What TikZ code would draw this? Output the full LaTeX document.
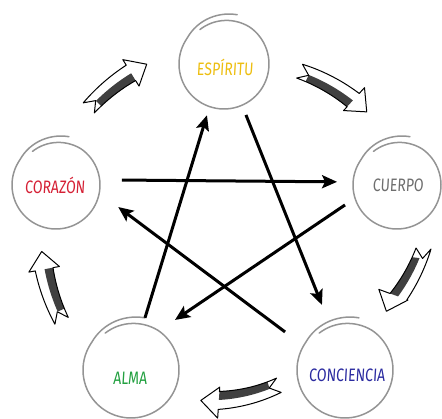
\documentclass[tikz,border=0pt]{standalone}
\usepackage{fontspec}
\newfontfamily\handfont[FakeStretch=0.78,FakeSlant=0.06]{Fira Sans}
\usetikzlibrary{arrows.meta,calc}
\definecolor{colEsp}{HTML}{EDBE10}
\definecolor{colCue}{HTML}{6E6E6E}
\definecolor{colCon}{HTML}{2B2BA0}
\definecolor{colAlm}{HTML}{22A040}
\definecolor{colCor}{HTML}{D52035}
\newcommand\handring[3]{%
  \draw[ringline] plot[domain=0:410,samples=90,smooth,variable=\t]
   ({#1+(#3-3*max(0,1-\t/70)+6*max(0,(\t-340)/70))*cos(125-\t)},
    {#2+(#3-3*max(0,1-\t/70)+6*max(0,(\t-340)/70))*sin(125-\t)});}
\newcommand\fatarrow[4]{%
  \def\Aa{#1}\def\Ab{#2}\def\Ra{#3}\def\Rb{#4}%
  \pgfmathsetmacro\Hb{#2+18/#4*57.3}%
  \pgfmathsetmacro\Nt{#1-10/#3*57.3}%
  \pgfmathsetmacro\Hout{#4+15.5}%
  \pgfmathsetmacro\Hin{#4-15.5}%
  \def\fatpath{plot[domain=\Aa:\Hb,samples=25,variable=\t]
     ({230+(rr(\t)+ww(\t))*cos(\t)},{184+(rr(\t)+ww(\t))*sin(\t)})
     -- ({230+\Hout*cos(\Hb)},{184+\Hout*sin(\Hb)})
     -- ({230+\Rb*cos(\Ab)},{184+\Rb*sin(\Ab)})
     -- ({230+\Hin*cos(\Hb)},{184+\Hin*sin(\Hb)})
     -- plot[domain=\Hb:\Aa,samples=25,variable=\t]
     ({230+(rr(\t)-ww(\t))*cos(\t)},{184+(rr(\t)-ww(\t))*sin(\t)})
     -- ({230+\Ra*cos(\Nt)},{184+\Ra*sin(\Nt)}) -- cycle}%
  \fill[white] \fatpath;
  \fill[fatshade] plot[domain=\Nt:\Hb,samples=25,variable=\t]
     ({230+(rr(\t)-ww(\t))*cos(\t)},{184+(rr(\t)-ww(\t))*sin(\t)})
     -- plot[domain=\Hb:\Nt,samples=25,variable=\t]
     ({230+(rr(\t)-0.05*ww(\t))*cos(\t)},{184+(rr(\t)-0.05*ww(\t))*sin(\t)}) -- cycle;
  \draw[fatout] \fatpath;}
\begin{document}
\begin{tikzpicture}[x=1pt,y=1pt,
  declare function={rr(\q)=\Ra+(\Rb-\Ra)*(\Aa-\q)/(\Aa-\Ab); ww(\q)=7.5+1.5*(\Aa-\q)/(\Aa-\Hb);},
  ring/.style={circle,minimum size=#1,inner sep=0pt},
  lab/.style={inner sep=0pt,font=\handfont\fontsize{18}{18}\selectfont},
  ringline/.style={draw=black!42,line width=1.5pt,line cap=round},
  starline/.style={line width=3pt,-{Stealth[length=15pt,width=13pt,inset=3pt]}},
  fatout/.style={draw=black,line width=1pt,line join=round},
  fatshade/.style={fill=black!75}]
\useasboundingbox (0,0) rectangle (442,419);
% circles
\node[ring=90] (esp) at (224,355) {};
\node[ring=88] (cue) at (397,234) {};
\node[ring=96] (con) at (345,49) {};
\node[ring=96] (alm) at (131,49) {};
\node[ring=88] (cor) at (56,234) {};
\handring{224}{355}{45}
\handring{397}{234}{44}
\handring{345}{49}{48}
\handring{131}{49}{48}
\handring{56}{234}{44}
% labels
\node[lab,text=colEsp] (espT) at ($(esp)+(1,-3)$) {ESPÍRITU};
\node[lab,text=colCue] (cueT) at ($(cue)+(1,0)$) {CUERPO};
\node[lab,text=colCon] (conT) at ($(con)+(2,-5)$) {CONCIENCIA};
\node[lab,text=colAlm] (almT) at ($(alm)+(-1,-8)$) {ALMA};
\node[lab,text=colCor] (corT) at ($(cor)+(-1,0)$) {CORAZÓN};
% star
\draw[starline] ($(esp)+(-66.7:55.5)$) -- ($(con)+(109.5:69)$);
\draw[starline] ($(cor)+(4.3:66)$) -- ($(cue)+(177:60)$);
\draw[starline] ($(cue)+(201:55.7)$) -- ($(alm)+(48.7:66.6)$);
\draw[starline] ($(con)+(147.6:71)$) -- ($(cor)+(-19.5:66)$);
\draw[starline] ($(alm)+(75:54)$) -- ($(esp)+(251.6:54)$);
% outer cycle arrows
\fatarrow{67}{42}{178}{184}
\fatarrow{-4}{-26}{194}{174}
\fatarrow{-72}{-100}{158}{168}
\fatarrow{-153}{-175}{189}{189}
\fatarrow{138}{116}{190}{190}
\end{tikzpicture}
\end{document}
